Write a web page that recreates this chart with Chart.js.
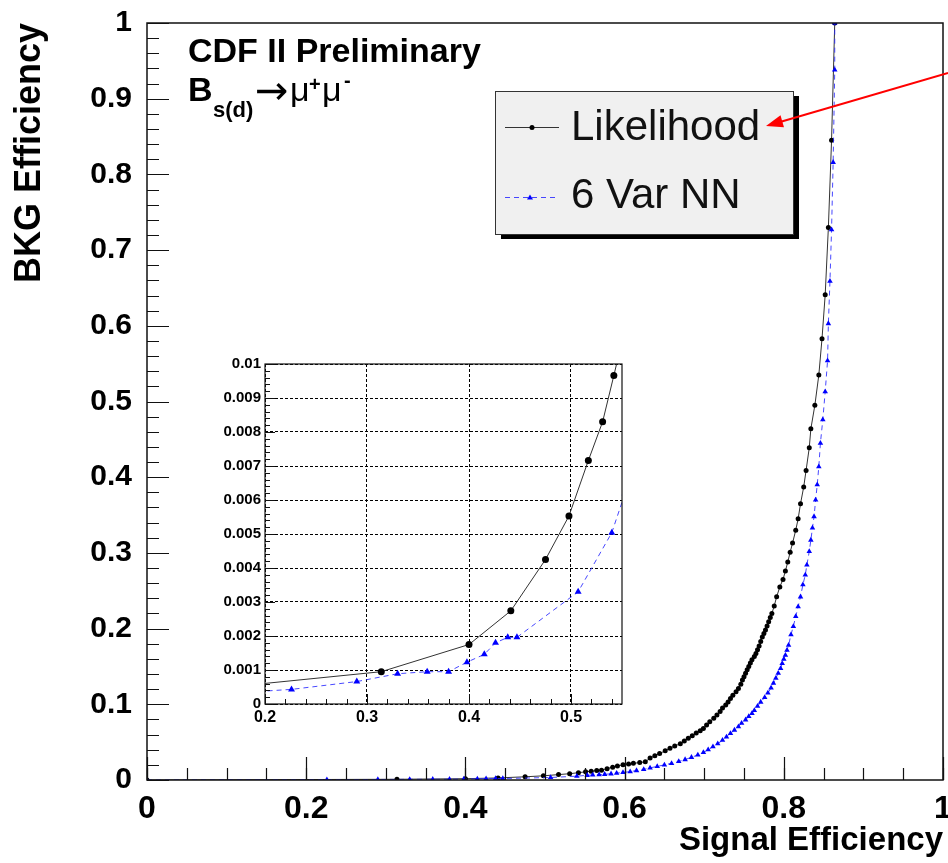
<!DOCTYPE html>
<html>
<head>
<meta charset="utf-8">
<title>CDF II ROC</title>
<script src="https://cdn.jsdelivr.net/npm/chart.js@4.4.0/dist/chart.umd.min.js"></script>
<style>
  body { margin: 0; background: #fff; }
  #wrap { position: relative; width: 948px; height: 863px; }
  #main { position: absolute; left: 0; top: 0; }
  #inset { position: absolute; left: 200px; top: 350px; }
</style>
</head>
<body>
<div id="wrap">
  <canvas id="main" width="948" height="863"></canvas>
  <canvas id="inset" width="430" height="385"></canvas>
</div>
<script>
"use strict"
// signal efficiency (x) vs background efficiency (y)

const likeSig = [0, 0.314, 0.400, 0.441, 0.475, 0.498, 0.517, 0.531, 0.542, 0.551, 0.558, 0.565, 0.571, 0.578,
    0.585, 0.591, 0.598, 0.605, 0.611, 0.619, 0.626, 0.632, 0.638, 0.644, 0.651, 0.657, 0.663, 0.670, 0.675,
    0.680, 0.685, 0.690, 0.695, 0.699, 0.703, 0.707, 0.712, 0.716, 0.720, 0.723, 0.727, 0.730, 0.733, 0.736,
    0.740, 0.743, 0.746, 0.748, 0.750, 0.752, 0.754, 0.756, 0.758, 0.760, 0.763, 0.765, 0.767, 0.769, 0.771,
    0.773, 0.775, 0.777, 0.779, 0.781, 0.783, 0.785, 0.788, 0.791, 0.795, 0.799, 0.802, 0.805, 0.808, 0.811,
    0.815, 0.818, 0.821, 0.825, 0.828, 0.832, 0.834, 0.839, 0.844, 0.848, 0.852, 0.856, 0.860, 0.864];
const likeBkg = [0, 0.00095, 0.00175, 0.00274, 0.00425, 0.00553, 0.00716, 0.0083, 0.00966, 0.0108, 0.0116, 0.0125, 0.013, 0.015,
    0.017, 0.0185, 0.020, 0.021, 0.022, 0.023, 0.024, 0.029, 0.032, 0.035, 0.0385, 0.042, 0.045, 0.048, 0.0515,
    0.055, 0.0585, 0.062, 0.065, 0.068, 0.0725, 0.077, 0.0815, 0.086, 0.0905, 0.095, 0.099, 0.103, 0.1075, 0.112,
    0.1165, 0.121, 0.1265, 0.132, 0.1365, 0.141, 0.1455, 0.150, 0.1545, 0.159, 0.163, 0.167, 0.172, 0.177, 0.183,
    0.189, 0.1935, 0.198, 0.2035, 0.209, 0.2145, 0.220, 0.230, 0.242, 0.255, 0.265, 0.276, 0.288, 0.301, 0.313,
    0.330, 0.345, 0.365, 0.387, 0.409, 0.439, 0.464, 0.495, 0.535, 0.583, 0.641, 0.730, 0.845, 1.0];

const nnSig = [0, 0.226, 0.290, 0.330, 0.359, 0.380, 0.398, 0.415, 0.426, 0.438, 0.447, 0.507, 0.540, 0.553,
    0.560, 0.568, 0.575, 0.583, 0.590, 0.598, 0.607, 0.615, 0.624, 0.632, 0.641, 0.650, 0.659, 0.668, 0.676,
    0.684, 0.692, 0.699, 0.705, 0.711, 0.717, 0.723, 0.728, 0.733, 0.738, 0.743, 0.747, 0.752, 0.756, 0.760,
    0.763, 0.767, 0.771, 0.776, 0.780, 0.784, 0.787, 0.790, 0.793, 0.796, 0.798, 0.800, 0.802, 0.804, 0.806,
    0.809, 0.812, 0.815, 0.818, 0.821, 0.824, 0.827, 0.829, 0.832, 0.834, 0.836, 0.838, 0.840, 0.842, 0.844,
    0.846, 0.849, 0.852, 0.855, 0.856, 0.858, 0.860, 0.862, 0.864, 0.864];
const nnBkg = [0, 0.00043, 0.00066, 0.00089, 0.00095, 0.00095, 0.00123, 0.00146, 0.0018, 0.00196, 0.00196, 0.0033, 0.00504, 0.0062,
    0.0066, 0.0070, 0.0075, 0.0082, 0.009, 0.010, 0.011, 0.0125, 0.014, 0.016, 0.018, 0.020, 0.022, 0.0245, 0.027,
    0.030, 0.033, 0.0365, 0.040, 0.044, 0.048, 0.0525, 0.057, 0.0615, 0.066, 0.0705, 0.075, 0.0795, 0.084, 0.088,
    0.092, 0.0975, 0.103, 0.109, 0.115, 0.1215, 0.128, 0.1345, 0.141, 0.1475, 0.154, 0.1595, 0.165, 0.1715, 0.178,
    0.192, 0.203, 0.216, 0.229, 0.242, 0.258, 0.271, 0.284, 0.302, 0.317, 0.333, 0.348, 0.370, 0.390, 0.414,
    0.445, 0.476, 0.513, 0.554, 0.603, 0.659, 0.727, 0.816, 0.938, 1.0];

const seriesNames = ["Likelihood", "6 Var NN"];

const mainXTicks = [0, 0.2, 0.4, 0.6, 0.8, 1];
const mainYTicks = [0, 0.1, 0.2, 0.3, 0.4, 0.5, 0.6, 0.7, 0.8, 0.9, 1];
const insetXTicks = [0.2, 0.3, 0.4, 0.5];
const insetYTicks = [0, 0.001, 0.002, 0.003, 0.004, 0.005, 0.006, 0.007, 0.008, 0.009, 0.01];

const FONT = "'Liberation Sans', Arial, Helvetica, sans-serif";
Chart.defaults.font.family = FONT;
Chart.defaults.color = "#000";

const LIKE_COLOR = "#000";
const NN_COLOR = "#0000ff";

function toPoints(xs, ys) {
    return xs.map((x, i) => ({ x: x, y: ys[i] }));
}

function makeDatasets(likeR, nnR) {
    return [{
        label: seriesNames[0],
        data: toPoints(likeSig, likeBkg),
        borderColor: "#333",
        borderWidth: 1,
        pointStyle: "circle",
        pointRadius: likeR,
        pointBackgroundColor: LIKE_COLOR,
        pointBorderColor: LIKE_COLOR,
        pointBorderWidth: 0,
        tension: 0,
        order: 1
    }, {
        label: seriesNames[1],
        data: toPoints(nnSig, nnBkg),
        borderColor: "rgba(40,40,255,0.85)",
        borderWidth: 1,
        borderDash: [5, 4],
        pointStyle: "triangle",
        pointRadius: nnR,
        pointBackgroundColor: NN_COLOR,
        pointBorderColor: NN_COLOR,
        pointBorderWidth: 0,
        tension: 0,
        order: 0
    }];
}

// ticks drawn inward, ROOT style
function drawTicks(ctx, scale, area, start, step, count, len, horizontal) {
    ctx.beginPath();
    for (let i = 0; i <= count; i++) {
        const p = Math.round(scale.getPixelForValue(start + i * step)) + 0.5;
        if (horizontal) {
            ctx.moveTo(p, area.bottom);
            ctx.lineTo(p, area.bottom - len);
        } else {
            ctx.moveTo(area.left, p);
            ctx.lineTo(area.left + len, p);
        }
    }
    ctx.stroke();
}

const mainFrame = {
    id: "mainFrame",
    afterDraw(chart) {
        const ctx = chart.ctx, a = chart.chartArea;
        const sx = chart.scales.x, sy = chart.scales.y;
        ctx.save();
        ctx.strokeStyle = "#111";
        ctx.lineWidth = 1.5;
        ctx.strokeRect(a.left, a.top, a.right - a.left, a.bottom - a.top);
        ctx.lineWidth = 1.2;
        drawTicks(ctx, sx, a, 0, 0.2, 5, 23, true);
        drawTicks(ctx, sx, a, 0, 0.05, 20, 12, true);
        drawTicks(ctx, sy, a, 0, 0.1, 10, 22, false);
        drawTicks(ctx, sy, a, 0, 0.02, 50, 12, false);
        ctx.restore();
    }
};

const annotations = {
    id: "annotations",
    afterDraw(chart) {
        const ctx = chart.ctx;
        ctx.save();
        ctx.fillStyle = "#000";
        ctx.textBaseline = "alphabetic";
        ctx.textAlign = "left";

        // title text
        ctx.font = "bold 34px " + FONT;
        ctx.fillText("CDF II Preliminary", 188, 62);
        ctx.fillText("B", 188, 101);
        ctx.font = "bold 22px " + FONT;
        ctx.fillText("s(d)", 213, 117);
        ctx.font = "40px 'DejaVu Sans', " + FONT;
        ctx.fillText("\u2192", 255, 104);
        ctx.font = "34px " + FONT;
        ctx.fillText("\u03bc", 290, 101);
        ctx.fillText("\u03bc", 322, 101);
        ctx.font = "bold 20px " + FONT;
        ctx.fillText("+", 309, 91);
        ctx.fillText("-", 344, 87);

        // legend box with shadow
        const lx = 495, ly = 91, lw = 298, lh = 143;
        ctx.fillStyle = "#000";
        ctx.fillRect(lx + 6, ly + 5, lw, lh);
        ctx.fillStyle = "#f0f0f0";
        ctx.fillRect(lx, ly, lw, lh);
        ctx.strokeStyle = "#333";
        ctx.lineWidth = 1;
        ctx.strokeRect(lx + 0.5, ly + 0.5, lw, lh);

        const ds = chart.data.datasets;
        // Likelihood sample
        ctx.strokeStyle = ds[0].borderColor;
        ctx.beginPath();
        ctx.moveTo(505, 127.5);
        ctx.lineTo(559, 127.5);
        ctx.stroke();
        ctx.fillStyle = LIKE_COLOR;
        ctx.beginPath();
        ctx.arc(532, 127.5, 2.5, 0, Math.PI * 2);
        ctx.fill();
        // NN sample
        ctx.strokeStyle = ds[1].borderColor;
        ctx.setLineDash([5, 4]);
        ctx.beginPath();
        ctx.moveTo(505, 197.5);
        ctx.lineTo(556, 197.5);
        ctx.stroke();
        ctx.setLineDash([]);
        ctx.fillStyle = NN_COLOR;
        ctx.beginPath();
        ctx.moveTo(530, 194.5);
        ctx.lineTo(533, 199.5);
        ctx.lineTo(527, 199.5);
        ctx.closePath();
        ctx.fill();

        ctx.fillStyle = "#111";
        ctx.font = "42px " + FONT;
        ctx.fillText(seriesNames[0], 571, 140);
        ctx.fillText(seriesNames[1], 571, 208);

        // red arrow pointing at the legend
        ctx.strokeStyle = "#ff0000";
        ctx.fillStyle = "#ff0000";
        ctx.lineWidth = 2;
        ctx.beginPath();
        ctx.moveTo(948, 73);
        ctx.lineTo(780, 122);
        ctx.stroke();
        const ang = Math.atan2(122 - 73, 780 - 948);
        const tipX = 766, tipY = 126;
        ctx.beginPath();
        ctx.moveTo(tipX, tipY);
        ctx.lineTo(tipX - 18 * Math.cos(ang - 0.35), tipY - 18 * Math.sin(ang - 0.35));
        ctx.lineTo(tipX - 18 * Math.cos(ang + 0.35), tipY - 18 * Math.sin(ang + 0.35));
        ctx.closePath();
        ctx.fill();
        ctx.restore();
    }
};

const mainChart = new Chart(document.getElementById("main").getContext("2d"), {
    type: "line",
    data: { datasets: makeDatasets(2.5, 3.2) },
    options: {
        responsive: false,
        animation: false,
        devicePixelRatio: 1,
        layout: { padding: { left: 0, top: 23, right: 5, bottom: 0 } },
        plugins: { legend: { display: false }, tooltip: { enabled: false } },
        scales: {
            x: {
                type: "linear",
                min: 0,
                max: 1,
                afterBuildTicks: s => { s.ticks = mainXTicks.map(v => ({ value: v })); },
                afterFit: s => { s.height = 83; s.paddingLeft = 0; s.paddingRight = 0; },
                grid: { display: false },
                border: { display: false },
                ticks: {
                    autoSkip: false, maxRotation: 0, padding: 2, color: "#000",
                    font: { size: 32, weight: "bold" },
                    callback: v => String(v)
                },
                title: {
                    display: true, text: "Signal Efficiency", align: "end", color: "#000",
                    font: { size: 33, weight: "bold" }, padding: { top: 0, bottom: 2 }
                }
            },
            y: {
                type: "linear",
                min: 0,
                max: 1,
                afterBuildTicks: s => { s.ticks = mainYTicks.map(v => ({ value: v })); },
                afterFit: s => { s.width = 147; s.paddingTop = 0; s.paddingBottom = 0; },
                grid: { display: false },
                border: { display: false },
                ticks: {
                    autoSkip: false, padding: 7, color: "#000",
                    font: { size: 30, weight: "bold" },
                    callback: v => String(v)
                },
                title: {
                    display: true, text: "BKG Efficiency", align: "end", color: "#000",
                    font: { size: 36, weight: "bold" }, padding: { top: 8, bottom: 0 }
                }
            }
        }
    },
    plugins: [mainFrame, annotations]
});

// zoomed inset
const insetFrame = {
    id: "insetFrame",
    beforeDraw(chart) {
        const ctx = chart.ctx;
        ctx.save();
        ctx.fillStyle = "#fff";
        ctx.fillRect(0, 0, chart.width, chart.height);
        ctx.restore();
    },
    afterDraw(chart) {
        const ctx = chart.ctx, a = chart.chartArea;
        const sx = chart.scales.x, sy = chart.scales.y;
        ctx.save();
        ctx.strokeStyle = "#111";
        ctx.lineWidth = 1.2;
        ctx.strokeRect(a.left, a.top, a.right - a.left, a.bottom - a.top);
        ctx.lineWidth = 1;
        drawTicks(ctx, sx, a, 0.2, 0.1, 3, 10, true);
        drawTicks(ctx, sx, a, 0.2, 0.02, 17, 5, true);
        drawTicks(ctx, sy, a, 0, 0.001, 10, 10, false);
        drawTicks(ctx, sy, a, 0, 0.0002, 50, 5, false);
        ctx.restore();
    }
};

const insetChart = new Chart(document.getElementById("inset").getContext("2d"), {
    type: "line",
    data: { datasets: makeDatasets(3.5, 4) },
    options: {
        responsive: false,
        animation: false,
        devicePixelRatio: 1,
        layout: { padding: { left: 0, top: 14, right: 8, bottom: 0 } },
        plugins: { legend: { display: false }, tooltip: { enabled: false } },
        scales: {
            x: {
                type: "linear",
                min: 0.2,
                max: 0.55,
                afterBuildTicks: s => { s.ticks = insetXTicks.map(v => ({ value: v })); },
                afterFit: s => { s.height = 31; s.paddingLeft = 0; s.paddingRight = 0; },
                grid: { color: "#000", lineWidth: 1, drawTicks: false },
                border: { display: false, dash: [3, 2] },
                ticks: {
                    autoSkip: false, maxRotation: 0, padding: 4, color: "#000",
                    font: { size: 16, weight: "bold" },
                    callback: v => String(v)
                }
            },
            y: {
                type: "linear",
                min: 0,
                max: 0.01,
                afterBuildTicks: s => { s.ticks = insetYTicks.map(v => ({ value: v })); },
                afterFit: s => { s.width = 65; s.paddingTop = 0; s.paddingBottom = 0; },
                grid: { color: "#000", lineWidth: 1, drawTicks: false },
                border: { display: false, dash: [3, 2] },
                ticks: {
                    autoSkip: false, padding: 4, color: "#000",
                    font: { size: 15, weight: "bold" },
                    callback: v => String(v)
                }
            }
        }
    },
    plugins: [insetFrame]
});
</script>
</body>
</html>
